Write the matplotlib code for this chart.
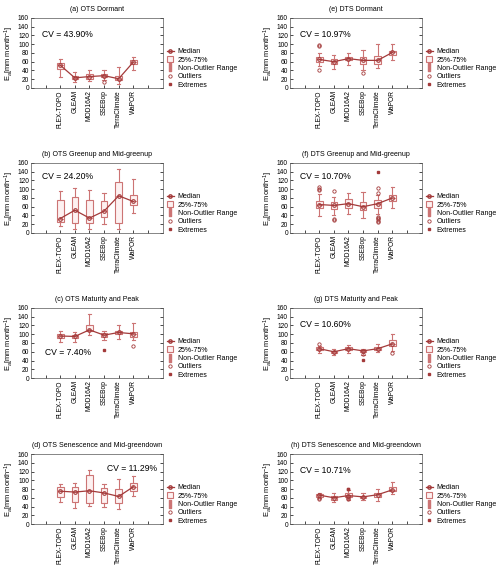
import numpy as np
import matplotlib
matplotlib.use('Agg')
import matplotlib.pyplot as plt
from matplotlib.lines import Line2D

plt.rcParams['font.family'] = ['Liberation Sans', 'DejaVu Sans']
plt.rcParams['mathtext.fontset'] = 'custom'
plt.rcParams['mathtext.rm'] = 'Liberation Sans'
plt.rcParams['mathtext.it'] = 'Liberation Sans:italic'

# productos
productos = ['FLEX-TOPO', 'GLEAM', 'MOD16A2', 'SSEBop', 'TerraClimate', 'WaPOR']

# titulos y CV de cada panel
titulos = ['(a) OTS Dormant', '(b) OTS Greenup and Mid-greenup',
           '(c) OTS Maturity and Peak', '(d) OTS Senescence and Mid-greendown',
           '(e) DTS Dormant', '(f) DTS Greenup and Mid-greenup',
           '(g) DTS Maturity and Peak', '(h) DTS Senescence and Mid-greendown']
cv_textos = ['CV = 43.90%', 'CV = 24.20%', 'CV = 7.40%', 'CV = 11.29%',
             'CV = 10.97%', 'CV = 10.70%', 'CV = 10.60%', 'CV = 10.71%']

# valores (mm/mes)
medianas = [
    [52, 23, 26, 28, 21, 59],
    [33, 52, 34, 50, 85, 72],
    [96, 95, 110, 98, 104, 101],
    [75, 73, 76, 71, 63, 85],
    [65, 60, 67, 63, 63, 81],
    [65, 63, 67, 60, 67, 80],
    [67, 60, 67, 62, 67, 78],
    [66, 60, 65, 62, 67, 78],
]
q1 = [
    [43, 20, 21, 24, 17, 54],
    [25, 22, 22, 37, 22, 65],
    [92, 92, 107, 94, 100, 93],
    [62, 50, 48, 47, 48, 75],
    [60, 55, 63, 55, 55, 75],
    [58, 55, 57, 53, 57, 73],
    [63, 57, 63, 59, 64, 73],
    [62, 56, 62, 60, 61, 75],
]
q3 = [
    [58, 27, 31, 32, 27, 63],
    [75, 83, 76, 73, 117, 87],
    [100, 99, 122, 102, 107, 106],
    [85, 85, 113, 83, 80, 94],
    [70, 65, 70, 70, 73, 85],
    [73, 70, 77, 70, 75, 87],
    [70, 62, 70, 64, 70, 86],
    [68, 64, 70, 65, 72, 85],
]
bigote_min = [
    [26, 13, 15, 18, 10, 40],
    [17, 8, 10, 20, 8, 45],
    [82, 83, 98, 86, 88, 86],
    [51, 36, 42, 39, 34, 64],
    [50, 43, 53, 40, 46, 63],
    [38, 40, 43, 35, 44, 57],
    [58, 53, 58, 53, 59, 62],
    [60, 50, 56, 56, 53, 68],
]
bigote_max = [
    [66, 37, 42, 40, 47, 70],
    [97, 103, 98, 91, 147, 124],
    [107, 106, 146, 108, 120, 125],
    [92, 93, 124, 91, 102, 109],
    [79, 75, 80, 87, 100, 100],
    [90, 82, 91, 93, 87, 106],
    [72, 67, 76, 66, 77, 100],
    [72, 71, 77, 71, 80, 96],
]
atipicos = [
    [[], [], [], [13], [], []],
    [[], [], [], [], [], []],
    [[], [], [], [], [], [72]],
    [[], [], [], [], [], []],
    [[97, 95, 42], [], [], [33], [], []],
    [[99, 101, 104], [96, 31, 29], [], [], [92, 103, 37, 34, 31, 28, 24], []],
    [[77], [], [], [55], [], [57]],
    [[60, 58], [], [58, 60], [], [], []],
]
extremos = [
    [[], [], [], [], [], []],
    [[], [], [], [], [], []],
    [[], [], [], [63], [], []],
    [[], [], [], [], [], []],
    [[], [], [], [], [], []],
    [[], [], [], [], [139], []],
    [[], [], [], [42], [], []],
    [[], [], [81, 79], [], [], []],
]

# posicion del texto CV (fraccion de ejes)
cv_pos = [(0.08, 0.77), (0.08, 0.80), (0.107, 0.37), (0.58, 0.79),
          (0.076, 0.77), (0.076, 0.80), (0.076, 0.77), (0.076, 0.77)]

ROJO = '#a33a3a'
ROJO_CLARO = '#cc7474'

fig = plt.figure(figsize=(5.0, 5.71), dpi=100)

izq = [0.062, 0.58]
abajo = [0.846, 0.592, 0.338, 0.0823]
ancho = 0.263
alto = 0.1226

pos = np.arange(1, 7)

for k in range(8):
    col = k // 4
    fila = k % 4
    ax = fig.add_axes([izq[col], abajo[fila], ancho, alto])

    stats = []
    for i in range(6):
        stats.append({'med': medianas[k][i], 'q1': q1[k][i], 'q3': q3[k][i],
                      'whislo': bigote_min[k][i], 'whishi': bigote_max[k][i],
                      'fliers': []})
    ax.bxp(stats, positions=pos, widths=0.45, showfliers=False, patch_artist=True,
           boxprops=dict(facecolor='#fdf1f1', edgecolor=ROJO_CLARO, linewidth=0.8),
           whiskerprops=dict(color=ROJO_CLARO, linewidth=0.8),
           capprops=dict(color=ROJO_CLARO, linewidth=0.8),
           medianprops=dict(color=ROJO_CLARO, linewidth=0.6), capwidths=0.22)

    ax.plot(pos, medianas[k], color=ROJO, linewidth=0.9, marker='o', ms=2.6,
            mfc='none', mec=ROJO, mew=0.8, zorder=5)

    for i in range(6):
        if atipicos[k][i]:
            ax.plot([pos[i]] * len(atipicos[k][i]), atipicos[k][i], 'o', ms=2.4,
                    mfc='none', mec=ROJO, mew=0.6, zorder=6)
        if extremos[k][i]:
            ax.plot([pos[i]] * len(extremos[k][i]), extremos[k][i], 's', ms=1.8,
                    color=ROJO, zorder=6)

    ax.set_xlim(-1, 8)
    ax.set_ylim(0, 160)
    ax.set_yticks(np.arange(0, 161, 20))
    ax.set_xticks(np.arange(0, 8))
    ax.set_xticklabels([''] + productos + [''], rotation=90, fontsize=4.8)
    ax.tick_params(axis='y', labelsize=4.8, direction='in', length=2, width=0.5,
                   right=True, pad=1.5)
    ax.tick_params(axis='x', direction='in', length=2, width=0.5, pad=1.5)
    for s in ax.spines.values():
        s.set_linewidth(0.5)
        s.set_color('#555555')
    ax.set_ylabel('E$_a$[mm month$^{-1}$]', fontsize=5.4, labelpad=1.5)
    ax.set_title(titulos[k], fontsize=5.0, pad=5)
    ax.text(cv_pos[k][0], cv_pos[k][1], cv_textos[k], transform=ax.transAxes,
            fontsize=6.2, va='center', ha='left')

    manijas = [
        Line2D([0], [0], color=ROJO, lw=0.9, marker='o', ms=2.4, mfc='none', mec=ROJO),
        Line2D([0], [0], ls='none', marker='s', ms=5, mfc='#fdf1f1', mec=ROJO_CLARO, mew=0.8),
        Line2D([0], [0], ls='none', marker=r'$\mathrm{I}$', ms=5.5, color=ROJO_CLARO),
        Line2D([0], [0], ls='none', marker='o', ms=2.4, mfc='none', mec=ROJO, mew=0.6),
        Line2D([0], [0], ls='none', marker='s', ms=1.8, color=ROJO),
    ]
    etiquetas = ['Median', '25%-75%', 'Non-Outlier Range', 'Outliers', 'Extremes']
    ax.legend(manijas, etiquetas, loc='lower left', bbox_to_anchor=(1.0, -0.08),
              frameon=False, fontsize=5.0, handlelength=0.9, handletextpad=0.6,
              labelspacing=0.2, borderaxespad=0.3)

fig.savefig('out.png', dpi=100)
